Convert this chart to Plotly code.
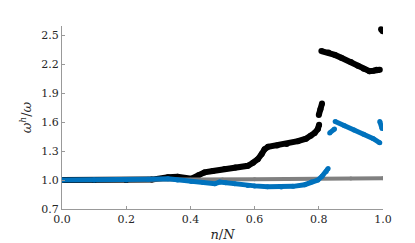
import plotly.graph_objects as go

# Black series (segments)
black_x1 = [0.0, 0.1, 0.2, 0.28, 0.33, 0.36, 0.403, 0.425, 0.444, 0.47, 0.507, 0.54, 0.579, 0.595, 0.61, 0.622, 0.631, 0.642, 0.67, 0.7, 0.735, 0.76, 0.775, 0.787, 0.797, 0.801]
black_y1 = [1.0, 1.0, 1.0, 1.005, 1.03, 1.035, 1.015, 1.05, 1.08, 1.095, 1.115, 1.13, 1.149, 1.18, 1.217, 1.27, 1.32, 1.346, 1.36, 1.375, 1.404, 1.43, 1.46, 1.49, 1.53, 1.575]
black_x2 = [0.80, 0.805, 0.81]
black_y2 = [1.676, 1.735, 1.795]
black_x3 = [0.808, 0.83, 0.85, 0.87, 0.9, 0.922, 0.94, 0.958, 0.97, 0.98, 0.99]
black_y3 = [2.34, 2.325, 2.30, 2.27, 2.225, 2.187, 2.155, 2.13, 2.135, 2.145, 2.146]
black_x4 = [0.994, 0.999]
black_y4 = [2.565, 2.545]

# Gray series
gray_x = [0.0, 0.2, 0.35, 0.4, 0.5, 0.6, 0.7, 0.8, 0.9, 1.0]
gray_y = [1.0, 1.0, 1.003, 1.003, 1.005, 1.008, 1.012, 1.014, 1.016, 1.02]

# Blue series (segments)
blue_x1 = [0.0, 0.1, 0.2, 0.268, 0.33, 0.36, 0.403, 0.44, 0.476, 0.491, 0.51, 0.538, 0.579, 0.6, 0.64, 0.683, 0.72, 0.756, 0.777, 0.797, 0.81, 0.823, 0.829]
blue_y1 = [1.0, 1.0, 1.0, 1.01, 1.013, 1.0, 0.986, 0.975, 0.962, 0.98, 0.972, 0.962, 0.945, 0.94, 0.932, 0.928, 0.935, 0.952, 0.98, 1.0, 1.04, 1.09, 1.12]
blue_x2 = [0.834, 0.849]
blue_y2 = [1.49, 1.53]
blue_x3 = [0.851, 0.88, 0.91, 0.94, 0.97, 0.99]
blue_y3 = [1.608, 1.565, 1.52, 1.475, 1.43, 1.387]
blue_x4 = [0.99, 0.997]
blue_y4 = [1.608, 1.535]

BLACK = "#000000"
GRAY = "#808080"
BLUE = "#0072BD"

fig = go.Figure()

def add(xs, ys, color, w):
    fig.add_trace(go.Scatter(x=xs, y=ys, mode="lines+markers",
                             line=dict(color=color, width=w),
                             marker=dict(color=color, size=w),
                             showlegend=False, hoverinfo="skip"))

for xs, ys in [(black_x1, black_y1), (black_x2, black_y2), (black_x3, black_y3), (black_x4, black_y4)]:
    add(xs, ys, BLACK, 6)
add(gray_x, gray_y, GRAY, 4)
for xs, ys in [(blue_x1, blue_y1), (blue_x2, blue_y2), (blue_x3, blue_y3), (blue_x4, blue_y4)]:
    add(xs, ys, BLUE, 5)

FAM = "DejaVu Serif"
font = dict(family=FAM, size=11, color="#262626")

fig.update_layout(
    width=415, height=243,
    margin=dict(l=54, r=40, t=18, b=39),
    paper_bgcolor="white", plot_bgcolor="white",
    font=font,
    xaxis=dict(range=[0, 1], tickvals=[0, 0.2, 0.4, 0.6, 0.8, 1.0],
               ticktext=["0.0", "0.2", "0.4", "0.6", "0.8", "1.0"],
               ticks="inside", ticklen=3, tickcolor="#999999",
               showline=True, linecolor="#999999", linewidth=1,
               showgrid=False, zeroline=False,
               tickfont=dict(family=FAM, size=11, color="#262626"),
               title=dict(text="<i>n</i>/<i>N</i>", standoff=4,
                          font=dict(family=FAM, size=13, color="#262626"))),
    yaxis=dict(range=[0.7, 2.6], tickvals=[0.7, 1.0, 1.3, 1.6, 1.9, 2.2, 2.5],
               ticktext=["0.7", "1.0", "1.3", "1.6", "1.9", "2.2", "2.5"],
               ticks="inside", ticklen=3, tickcolor="#999999",
               showline=True, linecolor="#999999", linewidth=1,
               showgrid=False, zeroline=False,
               tickfont=dict(family=FAM, size=11, color="#262626"),
               title=dict(text="<i>ω</i><sup><i>h</i></sup>/<i>ω</i>", standoff=6,
                          font=dict(family=FAM, size=13, color="#262626"))),
)

fig.write_html("out.html")
